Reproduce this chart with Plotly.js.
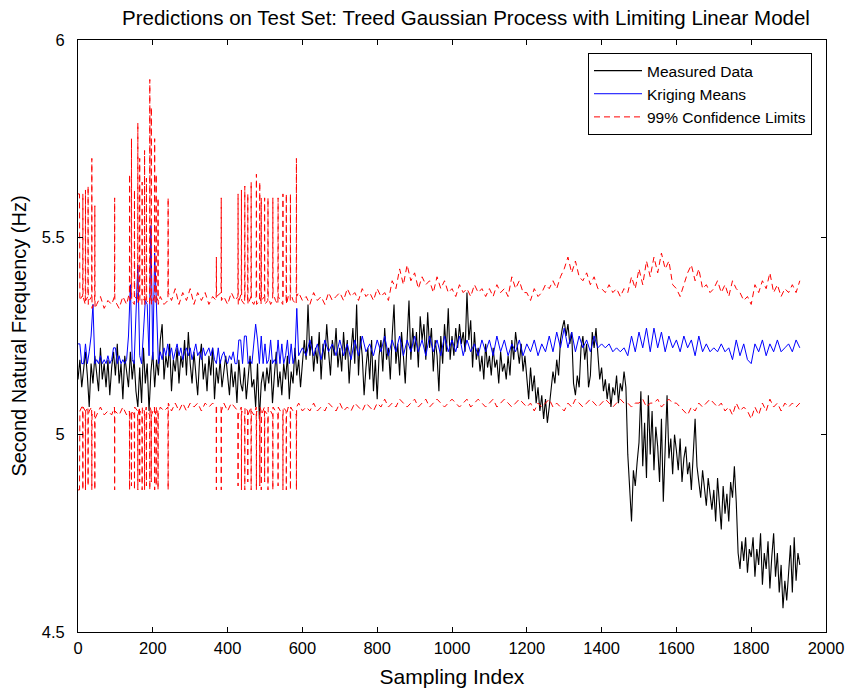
<!DOCTYPE html>
<html>
<head>
<meta charset="utf-8">
<script src="https://cdn.plot.ly/plotly-3.0.1.min.js"></script>
<style>html,body{margin:0;padding:0;background:#fff;}#chart{width:847px;height:692px;}</style>
</head>
<body>
<div id="chart"></div>
<script>
// ---------- DATA ----------
const chartTitle = 'Predictions on Test Set: Treed Gaussian Process with Limiting Linear Model';
const xLabel = 'Sampling Index';
const yLabel = 'Second Natural Frequency (Hz)';
const seriesNames = ['Measured Data', 'Kriging Means', '99% Confidence Limits'];
const xTicks = [0, 200, 400, 600, 800, 1000, 1200, 1400, 1600, 1800, 2000];
const yTicks = [4.5, 5, 5.5, 6];
const yTickText = ['4.5', '5', '5.5', '6'];

// Measured data, sampled every 5 indices from 0 to 1930
const measuredStep = 5;
const measured = [
  5.14,5.19,5.12,5.17,5.21,5.15,5.07,5.18,5.13,5.20,5.16,5.11,5.22,5.14,5.18,5.12,5.19,5.10,5.17,5.21,
  5.15,5.23,5.13,5.18,5.09,5.20,5.16,5.12,5.21,5.14,5.19,5.11,5.07,5.17,5.08,5.22,5.13,5.18,5.06,5.16,
  5.21,5.12,5.19,5.15,5.24,5.28,5.14,5.20,5.17,5.23,5.11,5.19,5.16,5.22,5.13,5.20,5.17,5.24,5.15,5.26,
  5.18,5.13,5.21,5.16,5.10,5.19,5.23,5.14,5.18,5.11,5.20,5.15,5.22,5.09,5.17,5.13,5.19,5.12,5.16,5.20,
  5.15,5.10,5.18,5.12,5.16,5.08,5.19,5.13,5.11,5.17,5.09,5.15,5.20,5.12,5.14,5.07,5.18,5.04,5.13,5.16,
  5.11,5.17,5.13,5.19,5.08,5.15,5.21,5.12,5.16,5.10,5.18,5.14,5.20,5.09,5.16,5.13,5.22,5.15,5.19,5.12,
  5.17,5.24,5.19,5.33,5.20,5.25,5.16,5.22,5.18,5.26,5.14,5.23,5.19,5.28,5.21,5.15,5.24,5.20,5.27,5.17,
  5.22,5.16,5.26,5.19,5.24,5.13,5.21,5.27,5.18,5.33,5.15,5.25,5.20,5.10,5.17,5.22,5.14,5.24,5.11,5.19,
  5.09,5.20,5.24,5.16,5.27,5.19,5.22,5.14,5.25,5.33,5.18,5.23,5.15,5.26,5.20,5.13,5.24,5.34,5.19,5.27,
  5.21,5.26,5.17,5.30,5.24,5.28,5.19,5.31,5.22,5.27,5.16,5.24,5.20,5.11,5.25,5.18,5.28,5.21,5.32,5.19,
  5.25,5.20,5.27,5.22,5.28,5.23,5.26,5.21,5.36,5.24,5.29,5.17,5.26,5.19,5.22,5.16,5.20,5.14,5.23,5.17,
  5.20,5.15,5.22,5.17,5.19,5.13,5.21,5.16,5.18,5.14,5.20,5.15,5.24,5.19,5.26,5.21,5.18,5.23,5.16,5.20,
  5.14,5.09,5.17,5.11,5.15,5.08,5.12,5.06,5.10,5.04,5.09,5.03,5.07,5.11,5.16,5.13,5.19,5.15,5.24,5.27,
  5.29,5.25,5.28,5.23,5.26,5.13,5.10,5.15,5.12,5.22,5.25,5.19,5.23,5.12,5.15,5.26,5.22,5.27,5.20,5.14,
  5.17,5.11,5.14,5.09,5.13,5.07,5.12,5.10,5.15,5.08,5.13,5.11,5.16,5.12,4.95,4.86,4.78,4.91,4.87,4.93,
  4.98,5.11,4.92,5.03,4.89,5.10,4.95,5.06,4.91,5.02,4.97,4.88,5.04,4.83,4.96,5.10,4.94,4.99,4.90,5.00,
  4.96,4.91,4.99,4.88,4.94,4.97,4.90,4.93,4.86,4.95,5.04,4.92,4.88,4.84,4.91,4.87,4.82,4.89,4.85,4.81,
  4.86,4.78,4.89,4.82,4.76,4.87,4.80,4.85,4.78,4.88,4.84,4.92,4.83,4.70,4.66,4.73,4.68,4.74,4.65,4.71,
  4.69,4.74,4.64,4.71,4.67,4.75,4.62,4.70,4.66,4.73,4.61,4.69,4.75,4.64,4.70,4.60,4.67,4.56,4.63,4.58,
  4.66,4.72,4.60,4.74,4.63,4.70,4.67
];

// Kriging means: every 5 indices over 0..600, then every 10 indices over 610..1930
const krigEarlyStep = 5;
const krigEarly = [
  5.23,5.23,5.18,5.18,5.23,5.18,5.21,5.25,5.33,5.18,
  5.19,5.18,5.20,5.18,5.19,5.18,5.20,5.18,5.19,5.22,
  5.22,5.18,5.20,5.18,5.19,5.18,5.19,5.25,5.38,5.19,
  5.18,5.30,5.43,5.20,5.18,5.26,5.34,5.33,5.20,5.53,
  5.19,5.46,5.30,5.18,5.21,5.19,5.22,5.20,5.23,5.20,
  5.22,5.19,5.21,5.23,5.20,5.22,5.19,5.21,5.22,5.20,
  5.22,5.19,5.21,5.23,5.20,5.21,5.19,5.22,5.20,5.21,
  5.22,5.20,5.22,5.19,5.18,5.22,5.18,5.20,5.21,5.19,
  5.18,5.20,5.19,5.21,5.18,5.18,5.24,5.24,5.18,5.25,
  5.25,5.18,5.19,5.18,5.24,5.28,5.24,5.18,5.25,5.18,
  5.23,5.18,5.19,5.24,5.18,5.19,5.18,5.24,5.18,5.23,
  5.18,5.20,5.24,5.18,5.23,5.18,5.20,5.32,5.20,5.21,
  5.22
];
const lateStart = 610;
const lateStep = 10;
const krigLate = [
  5.20,5.24,5.20,5.23,5.19,5.24,5.21,5.23,5.20,
  5.24,5.20,5.23,5.19,5.24,5.20,5.25,5.21,5.23,5.20,
  5.24,5.21,5.25,5.20,5.24,5.21,5.25,5.20,5.24,5.21,
  5.25,5.21,5.24,5.20,5.25,5.21,5.24,5.20,5.25,5.21,
  5.24,5.21,5.25,5.20,5.24,5.21,5.23,5.20,5.24,5.21,
  5.24,5.20,5.25,5.21,5.24,5.20,5.23,5.21,5.24,5.20,
  5.23,5.21,5.24,5.20,5.23,5.21,5.25,5.21,5.26,5.22,
  5.27,5.22,5.26,5.21,5.25,5.22,5.24,5.21,5.25,5.22,
  5.23,5.22,5.23,5.21,5.22,5.21,5.22,5.20,5.25,5.21,
  5.26,5.22,5.27,5.21,5.27,5.22,5.26,5.21,5.25,5.22,
  5.24,5.21,5.25,5.22,5.24,5.20,5.25,5.21,5.23,5.21,
  5.22,5.21,5.23,5.21,5.22,5.19,5.24,5.20,5.23,5.19,
  5.18,5.23,5.21,5.24,5.20,5.23,5.21,5.24,5.21,5.22,
  5.23,5.21,5.24,5.22
];

// 99% confidence limits over 0..600 (irregular sampling, includes the wide-variance spikes)
const ciEarlyX = [
  0,4,5,10,12.5,13,13.5,19.5,20,20.5,
  26.5,27,27.5,30,36.5,37,37.5,44.5,45,45.5,
  50,60,70,80,90,97.5,98,98.5,110,120,
  130,137.5,138,138.5,142.5,143,143.5,150.5,151,151.5,
  159.5,160,160.5,164.5,165,165.5,171,171.5,172,177.5,
  178,178.5,182.5,183,183.5,191.5,192,192.5,195.5,196,
  196.5,204.5,205,205.5,208.5,209,209.5,213.5,214,214.5,
  220,230,240.5,241,241.5,250,260,270,280,290,
  300,310,320,330,340,350,360,369.5,370,370.5,
  382.5,383,383.5,390,400,410,420,427.5,428,428.5,
  436.5,437,437.5,445.5,446,446.5,453.5,454,454.5,462.5,
  463,463.5,470,476.5,477,477.5,485.5,486,486.5,489.5,
  490,490.5,498.5,499,499.5,507.5,508,508.5,515,520.5,
  521,521.5,528,534.5,535,535.5,541,547.5,548,548.5,
  556.5,557,557.5,562,567.5,568,568.5,575,583.5,584,
  584.5,590,600
];
const ciEarlyUp = [
  5.61,5.61,5.34,5.35,5.35,5.61,5.35,5.33,5.62,5.34,
  5.35,5.63,5.33,5.34,5.35,5.70,5.32,5.34,5.58,5.32,
  5.33,5.35,5.32,5.34,5.33,5.35,5.60,5.34,5.32,5.35,
  5.33,5.36,5.66,5.34,5.35,5.75,5.34,5.33,5.62,5.35,
  5.34,5.79,5.33,5.36,5.70,5.34,5.33,5.64,5.35,5.34,
  5.72,5.33,5.35,5.65,5.34,5.33,5.90,5.36,5.34,5.83,
  5.33,5.35,5.75,5.34,5.33,5.66,5.35,5.34,5.60,5.33,
  5.35,5.33,5.34,5.60,5.36,5.34,5.37,5.33,5.36,5.34,
  5.37,5.33,5.36,5.34,5.36,5.33,5.35,5.34,5.45,5.35,
  5.36,5.60,5.34,5.35,5.33,5.36,5.34,5.35,5.61,5.33,
  5.36,5.62,5.34,5.33,5.63,5.35,5.34,5.61,5.33,5.35,
  5.64,5.34,5.33,5.35,5.66,5.33,5.34,5.64,5.35,5.33,
  5.60,5.34,5.35,5.60,5.33,5.34,5.60,5.35,5.33,5.34,
  5.60,5.36,5.34,5.33,5.60,5.35,5.34,5.33,5.61,5.35,
  5.34,5.61,5.33,5.35,5.34,5.61,5.36,5.34,5.33,5.70,
  5.35,5.36,5.34
];
const ciEarlyLo = [
  4.86,4.86,5.06,5.07,5.07,4.86,5.07,5.06,4.86,5.06,
  5.07,4.87,5.05,5.06,5.07,4.86,5.05,5.06,4.86,5.04,
  5.05,5.07,5.05,5.06,5.05,5.07,4.86,5.06,5.05,5.07,
  5.05,5.06,4.86,5.05,5.06,4.87,5.06,5.05,4.86,5.07,
  5.06,4.86,5.05,5.07,4.88,5.06,5.05,4.86,5.07,5.06,
  4.86,5.05,5.07,4.87,5.06,5.05,4.86,5.07,5.06,4.88,
  5.05,5.07,4.86,5.06,5.05,4.87,5.07,5.06,4.86,5.05,
  5.07,5.06,5.07,4.86,5.08,5.06,5.08,5.06,5.08,5.06,
  5.08,5.07,5.08,5.06,5.08,5.07,5.08,5.07,4.86,5.07,
  5.07,4.86,5.06,5.08,5.06,5.08,5.07,5.06,4.87,5.05,
  5.07,4.86,5.06,5.05,4.86,5.07,5.06,4.88,5.05,5.07,
  4.86,5.06,5.05,5.07,4.86,5.06,5.05,4.87,5.07,5.06,
  4.86,5.05,5.07,4.88,5.06,5.05,4.86,5.07,5.06,5.05,
  4.86,5.07,5.06,5.05,4.87,5.07,5.06,5.05,4.86,5.07,
  5.06,4.86,5.05,5.07,5.06,4.86,5.07,5.06,5.05,4.86,
  5.07,5.08,5.06
];
// 99% confidence limits, every 10 indices over 610..1930
const ciLateUp = [
  5.35,5.33,5.36,5.34,5.35,5.33,5.36,5.34,5.35,
  5.36,5.34,5.37,5.35,5.36,5.34,5.37,5.35,5.36,5.34,
  5.37,5.35,5.36,5.34,5.39,5.37,5.42,5.38,5.43,5.39,
  5.41,5.37,5.40,5.38,5.39,5.36,5.40,5.37,5.39,5.36,
  5.37,5.35,5.38,5.36,5.37,5.35,5.38,5.36,5.37,5.35,
  5.37,5.35,5.38,5.36,5.37,5.35,5.40,5.37,5.39,5.36,
  5.36,5.34,5.37,5.35,5.36,5.38,5.37,5.39,5.37,5.40,
  5.42,5.45,5.41,5.44,5.40,5.39,5.41,5.38,5.40,5.37,
  5.37,5.36,5.38,5.36,5.37,5.35,5.37,5.36,5.40,5.37,
  5.42,5.38,5.44,5.40,5.45,5.41,5.46,5.42,5.44,5.38,
  5.37,5.35,5.38,5.41,5.43,5.39,5.42,5.37,5.38,5.36,
  5.37,5.39,5.36,5.38,5.35,5.39,5.37,5.36,5.34,5.35,
  5.33,5.38,5.36,5.39,5.37,5.41,5.36,5.38,5.35,5.37,
  5.36,5.38,5.36,5.39
];
const ciLateLo = [
  5.07,5.06,5.08,5.06,5.07,5.06,5.08,5.07,5.06,
  5.08,5.06,5.07,5.06,5.08,5.07,5.06,5.08,5.07,5.06,
  5.08,5.07,5.09,5.07,5.08,5.07,5.09,5.08,5.07,5.08,
  5.09,5.07,5.08,5.09,5.07,5.08,5.09,5.08,5.07,5.08,
  5.09,5.08,5.07,5.08,5.09,5.07,5.08,5.09,5.08,5.07,
  5.08,5.09,5.07,5.08,5.09,5.08,5.07,5.08,5.09,5.08,
  5.07,5.08,5.06,5.08,5.07,5.08,5.09,5.07,5.08,5.07,
  5.06,5.08,5.07,5.09,5.08,5.07,5.08,5.09,5.08,5.07,
  5.08,5.09,5.08,5.07,5.08,5.09,5.08,5.08,5.07,5.08,
  5.08,5.09,5.07,5.08,5.08,5.09,5.07,5.08,5.09,5.08,
  5.08,5.07,5.06,5.05,5.07,5.06,5.08,5.07,5.08,5.09,
  5.08,5.07,5.08,5.06,5.07,5.05,5.08,5.06,5.07,5.06,
  5.04,5.07,5.05,5.08,5.06,5.09,5.07,5.08,5.06,5.08,
  5.07,5.08,5.07,5.08
];

// ---------- BUILD ----------
const measuredX = measured.map((_, i) => i * measuredStep);
const lateX = krigLate.map((_, i) => lateStart + i * lateStep);
const krigX = krigEarly.map((_, i) => i * krigEarlyStep).concat(lateX);
const krigY = krigEarly.concat(krigLate);
const ciX = ciEarlyX.concat(lateX);
const ciUp = ciEarlyUp.concat(ciLateUp);
const ciLo = ciEarlyLo.concat(ciLateLo);

const FONT = 'Liberation Sans, Arial, Helvetica, sans-serif';

const traces = [
  {x: measuredX, y: measured, type: 'scatter', mode: 'lines', name: seriesNames[0],
   line: {color: '#000000', width: 1.1}},
  {x: krigX, y: krigY, type: 'scatter', mode: 'lines', name: seriesNames[1],
   line: {color: '#0000ff', width: 1}},
  {x: ciX, y: ciUp, type: 'scatter', mode: 'lines', name: seriesNames[2], legendgroup: 'ci',
   line: {color: '#ff0000', width: 1, dash: '6px,4px'}},
  {x: ciX, y: ciLo, type: 'scatter', mode: 'lines', name: seriesNames[2], legendgroup: 'ci', showlegend: false,
   line: {color: '#ff0000', width: 1, dash: '6px,4px'}}
];

const axisCommon = {
  showline: true, linecolor: '#000', linewidth: 1, mirror: 'ticks',
  ticks: 'inside', ticklen: 5, tickwidth: 1, tickcolor: '#000',
  showgrid: false, zeroline: false, automargin: false,
  tickfont: {family: FONT, size: 16.5, color: '#000'}
};

const layout = {
  width: 847, height: 692,
  margin: {l: 78, r: 21, t: 40, b: 60},
  paper_bgcolor: '#ffffff', plot_bgcolor: '#ffffff',
  font: {family: FONT, size: 16, color: '#000'},
  showlegend: true,
  title: {text: chartTitle, font: {family: FONT, size: 20.5, color: '#000'},
          x: (466 - 78) / 748, xref: 'paper', xanchor: 'center', y: 1 - 18 / 692, yref: 'container', yanchor: 'middle'},
  xaxis: Object.assign({}, axisCommon, {
    range: [0, 2000], tickvals: xTicks, ticktext: xTicks.map(String), ticklabelstandoff: 1,
    title: {text: xLabel, font: {family: FONT, size: 21, color: '#000'}, standoff: 13}
  }),
  yaxis: Object.assign({}, axisCommon, {
    range: [4.5, 6], tickvals: yTicks, ticktext: yTickText, ticklabelstandoff: 9,
    title: {text: yLabel, font: {family: FONT, size: 20, color: '#000'}, standoff: 9}
  }),
  legend: {
    x: (812 - 78) / 748, xanchor: 'right', xref: 'paper',
    y: (632 - 53) / 592, yanchor: 'top', yref: 'paper',
    bgcolor: '#ffffff', bordercolor: '#000', borderwidth: 1,
    font: {family: FONT, size: 15.5, color: '#000'},
    itemwidth: 48, tracegroupgap: 0, traceorder: 'normal'
  }
};

Plotly.newPlot('chart', traces, layout, {displayModeBar: false, staticPlot: true});
</script>
</body>
</html>
